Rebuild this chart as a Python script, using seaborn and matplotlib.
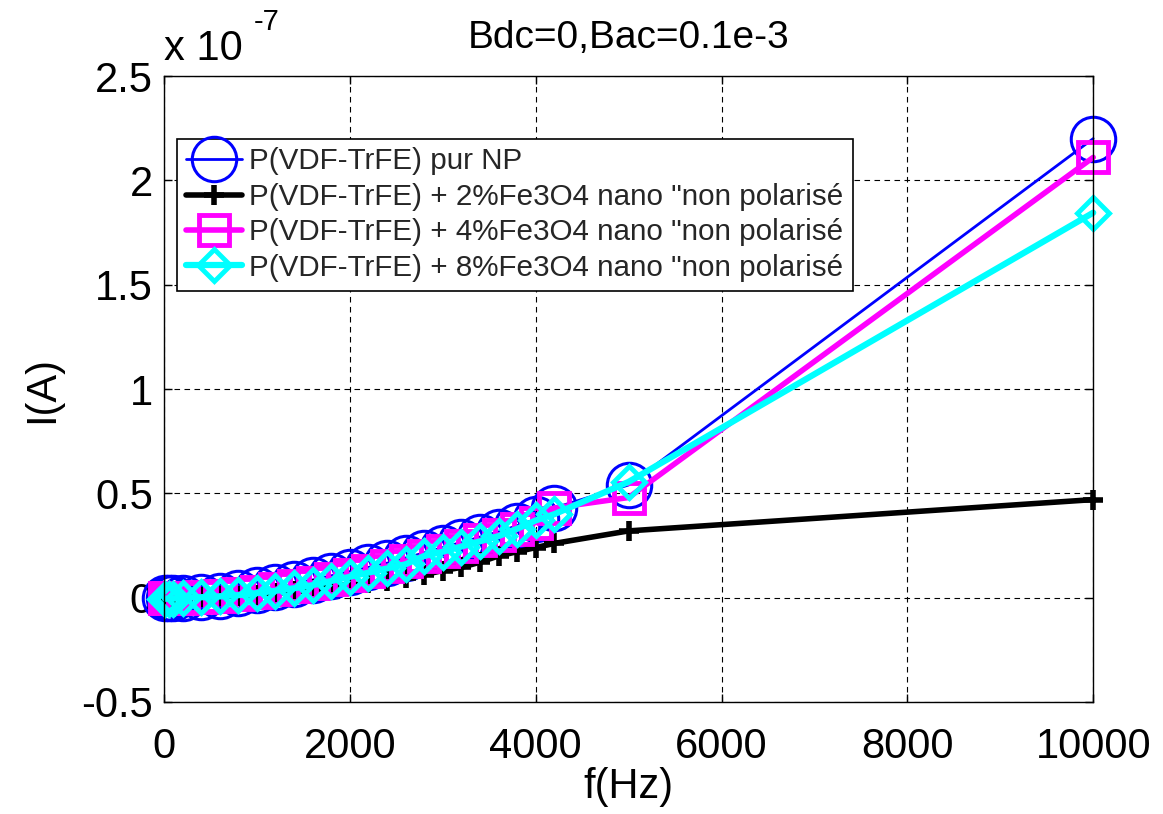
import numpy as np
import pandas as pd
import matplotlib
matplotlib.use("Agg")
import matplotlib.pyplot as plt
from matplotlib.ticker import FixedLocator, FuncFormatter
import seaborn as sns

# Frequencies (Hz)
freq = [10, 50, 100, 200, 400, 600, 800, 1000, 1200, 1400, 1600, 1800, 2000,
        2200, 2400, 2600, 2800, 3000, 3200, 3400, 3600, 3800, 4000, 4200,
        5000, 10000]

# Current, in units of 1e-7 A
i_pur = [0.00, 0.00, 0.00, 0.00, 0.005, 0.01, 0.02, 0.035, 0.05, 0.065, 0.085,
         0.105, 0.125, 0.145, 0.165, 0.19, 0.215, 0.24, 0.265, 0.29, 0.315,
         0.345, 0.375, 0.43, 0.54, 2.20]
i_2pct = [0.00, 0.00, 0.00, 0.00, 0.003, 0.006, 0.01, 0.015, 0.02, 0.03, 0.04,
          0.05, 0.06, 0.07, 0.08, 0.095, 0.11, 0.13, 0.145, 0.17, 0.20, 0.22,
          0.24, 0.26, 0.32, 0.47]
i_4pct = [0.00, 0.00, 0.00, 0.00, 0.003, 0.008, 0.016, 0.028, 0.04, 0.055,
          0.07, 0.09, 0.11, 0.13, 0.15, 0.175, 0.20, 0.225, 0.25, 0.275, 0.30,
          0.33, 0.36, 0.43, 0.48, 2.11]
i_8pct = [-0.005, -0.005, -0.005, 0.00, 0.002, 0.006, 0.012, 0.022, 0.033,
          0.045, 0.06, 0.08, 0.10, 0.12, 0.14, 0.16, 0.20, 0.22, 0.245, 0.27,
          0.295, 0.33, 0.37, 0.40, 0.555, 1.845]

labels = ["P(VDF-TrFE) pur NP",
          "P(VDF-TrFE) + 2%Fe3O4 nano \"non polarisé",
          "P(VDF-TrFE) + 4%Fe3O4 nano \"non polarisé",
          "P(VDF-TrFE) + 8%Fe3O4 nano \"non polarisé"]

x_ticks = [0, 2000, 4000, 6000, 8000, 10000]
y_ticks = [-0.5, 0, 0.5, 1, 1.5, 2, 2.5]

sns.set_theme(style="white")
plt.rcParams["font.family"] = ["Liberation Sans", "DejaVu Sans"]

fig = plt.figure(figsize=(11.63, 8.14), dpi=100)
ax = fig.add_axes([0.141, 0.1376, 0.799, 0.769])

styles = [
    dict(color="#0000ff", lw=2.0, marker="o", ms=32, mfc="none", mew=2.2),
    dict(color="#000000", lw=4.0, marker="+", ms=14, mew=4.0),
    dict(color="#ff00ff", lw=4.0, marker="s", ms=22, mfc="none", mew=3.5),
    dict(color="#00ffff", lw=4.5, marker="D", ms=16, mfc="none", mew=3.5),
]
series = [i_pur, i_2pct, i_4pct, i_8pct]

for vals, lab, st in zip(series, labels, styles):
    df = pd.DataFrame({"f": freq, "I": vals})
    sns.lineplot(data=df, x="f", y="I", ax=ax, label=lab, sort=False,
                 estimator=None, color=st["color"], linewidth=st["lw"],
                 marker=st["marker"], markersize=st["ms"],
                 markerfacecolor=st.get("mfc", st["color"]),
                 markeredgecolor=st["color"], markeredgewidth=st["mew"],
                 clip_on=False)

ax.set_xlim(0, 10000)
ax.set_ylim(-0.5, 2.5)
ax.xaxis.set_major_locator(FixedLocator(x_ticks))
ax.yaxis.set_major_locator(FixedLocator(y_ticks))
ax.yaxis.set_major_formatter(FuncFormatter(lambda v, p: f"{v:g}"))
ax.xaxis.set_major_formatter(FuncFormatter(lambda v, p: f"{v:g}"))

ax.grid(True, color="black", linestyle=(0, (5, 4)), linewidth=0.8)
for s in ax.spines.values():
    s.set_color("black")
    s.set_linewidth(1.0)
    s.set_visible(True)
ax.tick_params(axis="both", which="major", direction="in", length=6,
               width=1, color="black", labelsize=30, top=True, right=True,
               bottom=True, left=True, labelcolor="black")
ax.tick_params(axis="x", pad=18)
ax.tick_params(axis="y", pad=8)

ax.set_xlabel("f(Hz)", fontsize=30, color="black", labelpad=0)
ax.set_ylabel("I(A)", fontsize=30, color="black", labelpad=14)
ax.set_title("Bdc=0,Bac=0.1e-3", fontsize=28, color="black", pad=20)

# exponent multiplier of the y axis
ax.text(0.0, 1.012, "x 10", transform=ax.transAxes,
        fontsize=30, ha="left", va="bottom", color="black")
ax.text(0.097, 1.064, "-7", transform=ax.transAxes,
        fontsize=21, ha="left", va="bottom", color="black")

leg = ax.legend(loc="upper left", bbox_to_anchor=(0.014, 0.9),
                fontsize=21.3, frameon=True, fancybox=False, framealpha=1,
                edgecolor="black", handlelength=1.9, handletextpad=0.25,
                borderpad=0.3, labelspacing=0.25, markerscale=1.0,
                borderaxespad=0)
leg.get_frame().set_linewidth(1.2)

fig.savefig("out.png", dpi=100, facecolor="white")
